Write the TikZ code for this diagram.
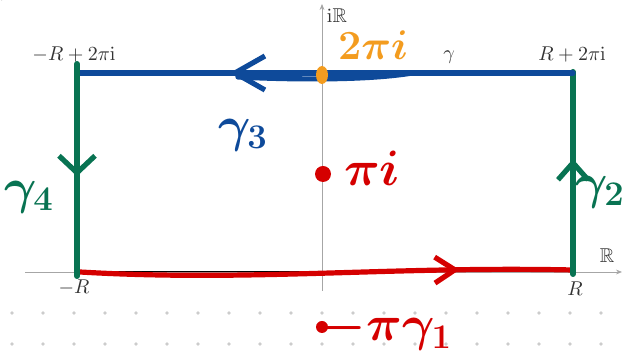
\documentclass[tikz,border=0pt]{standalone}
\usepackage{amsmath,amssymb}
\usetikzlibrary{arrows.meta,decorations.markings,shapes.geometric}
\definecolor{handblue}{RGB}{14,74,154}
\definecolor{handgreen}{RGB}{8,115,82}
\definecolor{handred}{RGB}{213,0,0}
\definecolor{handorange}{RGB}{243,156,31}
\begin{document}
\begin{tikzpicture}[x=0.5pt, y=-0.5pt,
  axis/.style={gray!70, line width=0.4pt, -{Stealth[length=3pt, width=2.4pt]}},
  contour/.style={black, line width=0.5pt},
  corner/.style={circle, fill=black, inner sep=0pt, minimum size=2.4pt},
  lbl/.style={inner sep=1pt, text=black!80},
  gridpt/.style={circle, fill=gray!40, inner sep=0pt, minimum size=1.8pt},
  stroke/.style={line width=#1, line cap=round, line join=round},
  barb/.style n args={3}{postaction={decorate}, decoration={markings,
      mark=at position #1 with {\arrow{Straight Barb[length=#2, width=#3, line width=2.6pt]}}}},
  handlbl/.style={inner sep=0pt, font=\fontsize{#1}{#1}\selectfont},
]
\useasboundingbox (0,0) rectangle (623,357);

% === DOT GRID ===
\foreach \gx in {0,...,19} {
  \foreach \gy in {313,344} {
    \node[gridpt] at (12+31*\gx, \gy) {};
  }
}

% === AXES ===
\coordinate (xmin) at (25,272);
\coordinate (xmax) at (622,272);
\coordinate (ymin) at (322,291);
\coordinate (ymax) at (322,4);
\draw[axis] (xmin) -- (xmax);
\draw[axis] (ymin) -- (ymax);
\node[lbl] (re) at (607,256) {$\mathbb{R}$};
\node[lbl] (im) at (337,16) {$\mathrm{i}\mathbb{R}$};

% === RECTANGLE ===
\node[corner] (A) at (77,272) {};
\node[corner] (B) at (573,272) {};
\node[corner] (C) at (573,72) {};
\node[corner] (D) at (77,72) {};
\draw[contour] (A.center) -- (B.center) -- (C.center) -- (D.center) -- cycle;
\node[lbl] (lA) at (74,288) {$-R$};
\node[lbl] (lB) at (575,289) {$R$};
\node[lbl] (lC) at (572,55) {$R+2\pi\mathrm{i}$};
\node[lbl] (lD) at (74,55) {$-R+2\pi\mathrm{i}$};
\node[lbl] (lg) at (449,57) {$\gamma$};

% top left remnant
\draw[black!85, line width=1pt] (1,0) arc (180:340:6 and 7);

% === HANDWRITING ===
% gamma_1 (bottom)
\coordinate (r0) at (80,272);
\coordinate (r1) at (573,270);
\draw[handred, stroke=2.6pt, barb={0.77}{10pt}{13pt}]
  (r0) .. controls (250,282) and (390,266) .. (r1);
% gamma_2 (right)
\coordinate (g20) at (573,274);
\coordinate (g21) at (573,72);
\draw[handgreen, stroke=3pt, barb={0.57}{8.5pt}{15pt}] (g20) -- (g21);
% gamma_3 (top)
\coordinate (b0) at (573,73);
\coordinate (b1) at (79,73);
\coordinate (b2) at (412,73);
\coordinate (b3) at (238,77);
\draw[handblue, stroke=2.6pt, barb={0.695}{15pt}{17pt}] (b0) -- (b1);
\draw[handblue, stroke=2.6pt] (b2) .. controls (370,80) and (300,80) .. (b3);
% gamma_4 (left)
\coordinate (g40) at (77,64);
\coordinate (g41) at (77,276);
\draw[handgreen, stroke=3pt, barb={0.53}{8.5pt}{18pt}] (g40) -- (g41);

% poles
\node[ellipse, fill=handorange, minimum width=6pt, minimum height=9pt, inner sep=0pt] (p2) at (322,75) {};
\node[circle, fill=handred, minimum size=8pt, inner sep=0pt] (p1) at (323,174) {};
\node[circle, fill=handred, minimum size=6pt, inner sep=0pt] (p0) at (322,327) {};

% labels
\node[handlbl=22pt, text=handorange] (l2pi) at (373,45) {$\boldsymbol{2\pi i}$};
\node[handlbl=30pt, text=handred] (lpi) at (372,168) {$\boldsymbol{\pi i}$};
\node[handlbl=24pt, text=handred] (lmpi) at (387,330) {$\boldsymbol{-\pi\gamma_1}$};
\node[handlbl=27pt, text=handblue] (lg3) at (243,135) {$\boldsymbol{\gamma_3}$};
\node[handlbl=27pt, text=handgreen] (lg4) at (29,197) {$\boldsymbol{\gamma_4}$};
\node[handlbl=27pt, text=handgreen] (lg2) at (600,192) {$\boldsymbol{\gamma_2}$};
\end{tikzpicture}
\end{document}
